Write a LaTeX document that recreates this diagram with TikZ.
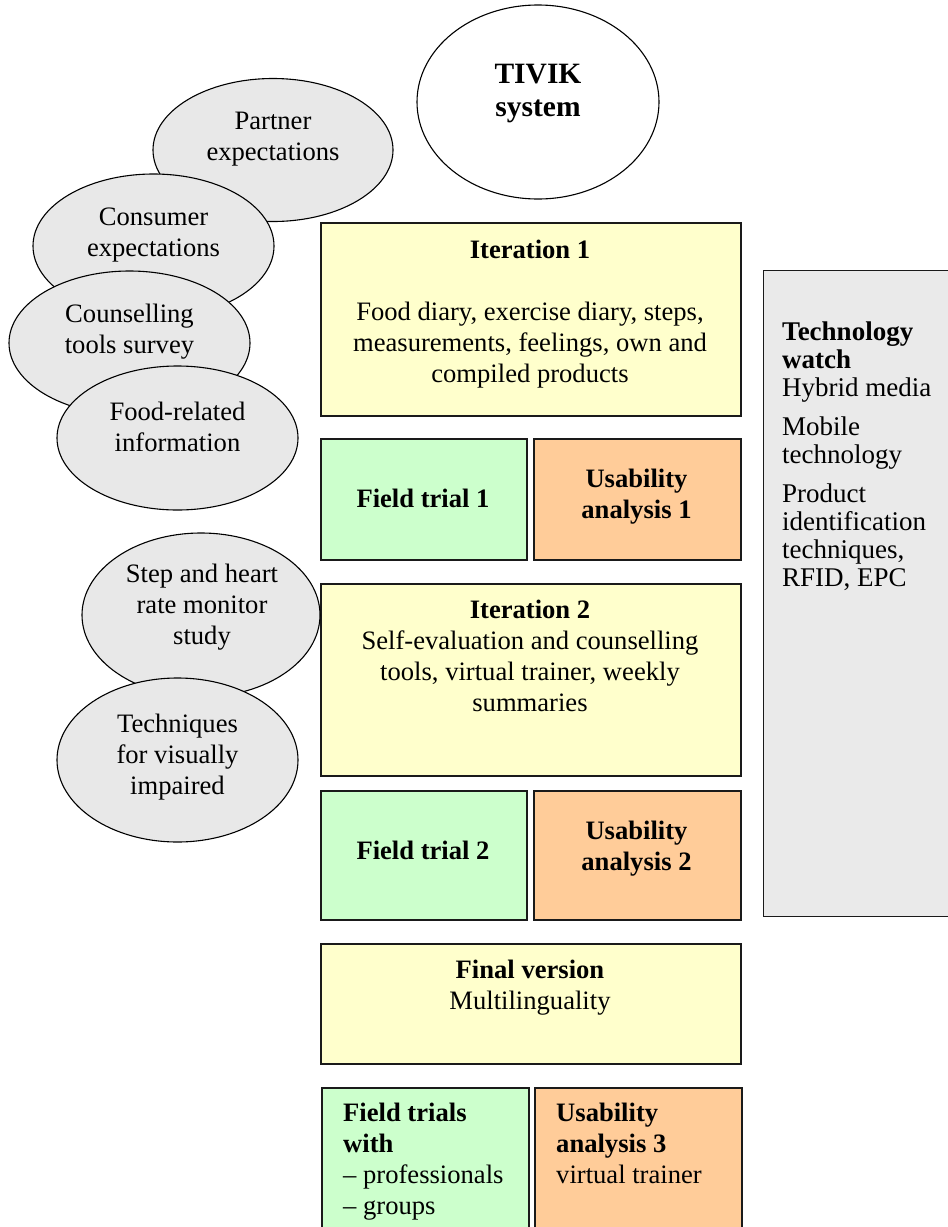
\documentclass[tikz,border=0pt]{standalone}
\usepackage{fontspec}
\setmainfont{Liberation Serif}
\usetikzlibrary{shapes.geometric}
\definecolor{yel}{HTML}{FFFFCC}
\definecolor{grn}{HTML}{CCFFCC}
\definecolor{org}{HTML}{FFCC99}
\definecolor{gry}{HTML}{E8E8E8}
\definecolor{twg}{HTML}{EAEAEA}
\definecolor{edge}{HTML}{1A1A1A}
\begin{document}
\begin{tikzpicture}[x=1pt,y=-1pt,
  box/.style={draw=edge, line width=1.6pt, anchor=north west, inner sep=0pt},
  oval/.style={ellipse, draw, line width=1.1pt, fill=gry, inner sep=0pt},
  txt/.style={font=\fontsize{26.6}{31}\selectfont, align=center, inner sep=0pt},
  ltxt/.style={font=\fontsize{26.6}{31}\selectfont, align=left, inner sep=0pt, anchor=north west},
  twtxt/.style={font=\fontsize{27}{28}\selectfont, align=left, inner sep=0pt, anchor=north west}]
\useasboundingbox (0,0) rectangle (948,1227);

% boxes
\node[box, fill=yel, minimum width=420pt, minimum height=193pt] (it1) at (320,222) {};
\node[box, fill=grn, minimum width=206pt, minimum height=121pt] (ft1) at (320,438) {};
\node[box, fill=org, minimum width=207pt, minimum height=121pt] (ua1) at (533,438) {};
\node[box, fill=yel, minimum width=420pt, minimum height=192pt] (it2) at (320,583) {};
\node[box, fill=grn, minimum width=206pt, minimum height=129pt] (ft2) at (320,790) {};
\node[box, fill=org, minimum width=207pt, minimum height=129pt] (ua2) at (533,790) {};
\node[box, fill=yel, minimum width=420pt, minimum height=120pt] (fin) at (320,943) {};
\node[box, fill=grn, minimum width=207pt, minimum height=170pt] (ftw) at (321,1087) {};
\node[box, fill=org, minimum width=207pt, minimum height=170pt] (ua3) at (534,1087) {};
\node[box, fill=twg, line width=1.2pt, minimum width=230pt, minimum height=646pt] (tw) at (763,270) {};

% box texts
\node[txt, anchor=north] (it1t) at (530,240) {\textbf{Iteration 1}\\[31pt]Food diary, exercise diary, steps,\\measurements, feelings, own and\\compiled products};
\node[txt] (ft1t) at (423,498) {\textbf{Field trial 1}};
\node[txt] (ua1t) at (636.5,497) {\textbf{Usability}\\\textbf{analysis 1}};
\node[txt, anchor=north] (it2t) at (530,600) {\textbf{Iteration 2}\\Self-evaluation and counselling\\tools, virtual trainer, weekly\\summaries};
\node[txt] (ft2t) at (423,850) {\textbf{Field trial 2}};
\node[txt] (ua2t) at (636.5,849) {\textbf{Usability}\\\textbf{analysis 2}};
\node[txt, anchor=north] (fint) at (530,960) {\textbf{Final version}\\Multilinguality};
\node[ltxt] (ftwt) at (343,1103) {\textbf{Field trials}\\\textbf{with}\\– professionals\\– groups};
\node[ltxt] (ua3t) at (556,1103) {\textbf{Usability}\\\textbf{analysis 3}\\virtual trainer};
\node[twtxt] (twt) at (782,322) {\textbf{Technology}\\\textbf{watch}\\Hybrid media\\[11pt]Mobile\\technology\\[11pt]Product\\identification\\techniques,\\RFID, EPC};

% ellipses
\node[oval, minimum width=240pt, minimum height=143pt] (pe) at (273,150) {};
\node[txt] (pet) at (273,139) {Partner\\expectations};
\node[oval, minimum width=241pt, minimum height=144pt] (ce) at (153.5,246) {};
\node[txt] (cet) at (153.5,235) {Consumer\\expectations};
\node[oval, minimum width=241pt, minimum height=144pt] (cs) at (129.5,343) {};
\node[txt] (cst) at (129.5,332) {Counselling\\tools survey};
\node[oval, minimum width=241pt, minimum height=144pt] (fr) at (177.5,438) {};
\node[txt] (frt) at (177.5,427) {Food-related\\information};
\node[oval, minimum width=238pt, minimum height=164pt] (sh) at (201,615) {};
\node[txt] (sht) at (202,607) {Step and heart\\rate monitor\\study};
\node[oval, minimum width=241pt, minimum height=164pt] (vi) at (177.5,760) {};
\node[txt] (vit) at (177.5,757) {Techniques\\for visually\\impaired};
\node[oval, fill=white, minimum width=242pt, minimum height=194pt] (tv) at (538,102) {};
\node[txt, font=\fontsize{29.5}{33}\selectfont] (tvt) at (538,94) {\textbf{TIVIK}\\\textbf{system}};
\end{tikzpicture}
\end{document}
